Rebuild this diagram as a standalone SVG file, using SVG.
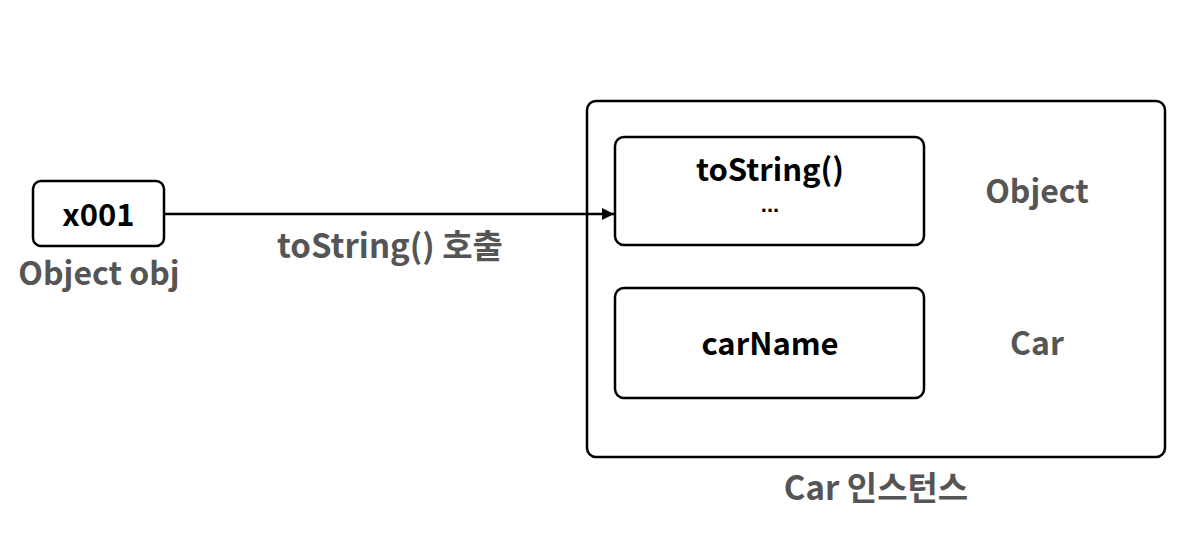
<svg xmlns="http://www.w3.org/2000/svg" width="1200" height="539" viewBox="0 0 1200 539">
<defs>
<style>
.box{fill:#fff;stroke:#000;stroke-width:2.5}
.t{font-family:"Noto Sans CJK KR","Noto Sans",sans-serif;font-weight:bold;text-anchor:middle}
.dots{font-family:"Liberation Sans",sans-serif;font-weight:bold;text-anchor:middle}
.blk{fill:#000}
.gry{fill:#555}
</style>
<marker id="arr" viewBox="0 0 10 10" refX="10" refY="5" markerWidth="5" markerHeight="5" orient="auto" markerUnits="strokeWidth">
<path d="M0,0 L10,5 L0,10 z" fill="#000"/>
</marker>
</defs>
<rect width="1200" height="539" fill="#fff"/>
<g id="ref-x001">
<rect class="box" x="33" y="181" width="131" height="65" rx="8"/>
<text class="t blk" x="98.5" y="226" font-size="31">x001</text>
<text class="t gry" x="99" y="285" font-size="32">Object obj</text>
</g>
<g id="car-instance">
<rect class="box" x="587" y="101" width="578" height="356" rx="9"/>
<text class="t gry" x="876" y="500" font-size="33">Car 인스턴스</text>
</g>
<g id="object-part">
<rect class="box" x="615" y="137" width="309" height="108" rx="9"/>
<text class="t blk" x="770" y="181" font-size="31">toString()</text>
<text class="dots blk" x="770" y="212" font-size="22">...</text>
<text class="t gry" x="1037" y="203" font-size="32">Object</text>
</g>
<g id="car-part">
<rect class="box" x="615" y="288" width="309" height="110" rx="9"/>
<text class="t blk" x="770" y="355" font-size="31">carName</text>
<text class="t gry" x="1037" y="355" font-size="32">Car</text>
</g>
<g id="connectors">
<line x1="164" y1="214" x2="614" y2="214" stroke="#000" stroke-width="2.5" marker-end="url(#arr)"/>
<text class="t gry" x="390" y="258" font-size="33">toString() 호출</text>
</g>
</svg>
